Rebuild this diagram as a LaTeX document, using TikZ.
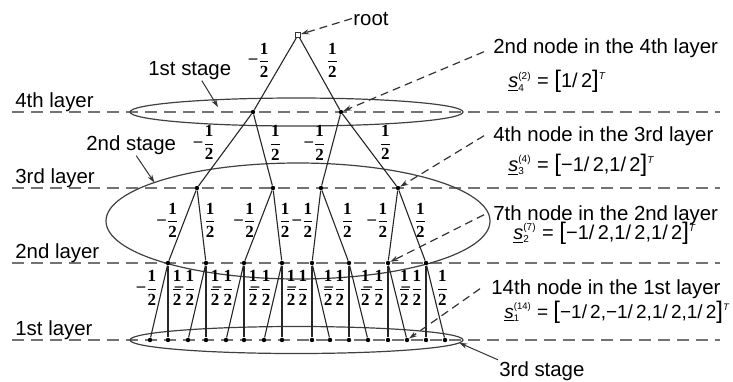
\documentclass[tikz,border=0pt]{standalone}
\usepackage{amsmath}
\usepackage{fontspec}
\setmainfont{Liberation Sans}
\newfontfamily\fracfont{Liberation Serif}
\usepackage{tikz}
\usetikzlibrary{shapes.geometric, positioning, arrows.meta}

% edge weights
\newcommand{\nhalf}{$\vcenter{\hbox{\fracfont\bfseries\textendash}}\dfrac{\text{\fracfont\bfseries 1}}{\text{\fracfont\bfseries 2}}$}
\newcommand{\phalf}{$\dfrac{\text{\fracfont\bfseries 1}}{\text{\fracfont\bfseries 2}}$}
% node vector s_layer^(index)
\newcommand{\svec}[2]{\underline{\textit{s}}$^{\scriptscriptstyle\text{(#2)}}_{\scriptscriptstyle\text{#1}}$}
\newcommand{\lbr}{{\fontsize{12}{12}\selectfont[}}
\newcommand{\rbr}{{\fontsize{12}{12}\selectfont]}$^{\scriptscriptstyle\textit{T}}$}
\newcommand{\hv}{1/\,2}
\newcommand{\mhv}{\char"2212 1/\,2}

\begin{document}
\begin{tikzpicture}[
        x=0.5pt, y=-0.5pt,
        txt/.style={font=\fontsize{10.2}{12}\selectfont, inner sep=0.5pt},
        eq/.style={font=\fontsize{10}{12}\selectfont, inner sep=0.5pt},
        lab/.style={font=\fontsize{8.5}{9}\selectfont, inner sep=0pt},
        dot/.style={circle, fill=black, inner sep=0pt, minimum size=2.2pt},
        rootpt/.style={rectangle, draw=black!80, fill=white, line width=0.4pt,
            inner sep=0pt, minimum size=2.6pt},
        edge/.style={draw=black!85, line width=0.55pt},
        layerline/.style={draw=black!55, line width=0.9pt, dash pattern=on 6pt off 3.5pt},
        stage/.style={draw=black!75, line width=0.6pt, ellipse, inner sep=0pt, outer sep=0pt},
        pointer/.style={draw=black!80, line width=0.6pt, dash pattern=on 4pt off 2.5pt,
            -{Stealth[length=4pt, width=2.6pt]}},
        arr/.style={draw=black!80, line width=0.5pt, -{Stealth[length=4pt, width=2.6pt]}}
    ]
    \useasboundingbox (0,0) rectangle (733,381);

    % ==========================================
    % LAYERS
    % ==========================================
    \foreach \y/\n in {112/4, 188/3, 263/2, 340/1} {
        \coordinate (w\n) at (12,\y);
        \coordinate (e\n) at (720,\y);
        \draw[layerline] (w\n) -- (e\n);
    }
    \node[txt, anchor=base west] (lab4) at (14,107) {4th layer};
    \node[txt, anchor=base west] (lab3) at (14,183) {3rd layer};
    \node[txt, anchor=base west] (lab2) at (14,258) {2nd layer};
    \node[txt, anchor=base west] (lab1) at (14,335) {1st layer};

    % ==========================================
    % STAGES
    % ==========================================
    \node[stage, minimum width=166.5pt, minimum height=14pt] (st1) at (296.5,112) {};
    \node[stage, minimum width=192pt, minimum height=58pt] (st2) at (298,221) {};
    \node[stage, minimum width=166.5pt, minimum height=13.5pt] (st3) at (296.5,340) {};

    \node[txt, anchor=base west] (s1) at (147,75) {1st stage};
    \node[txt, anchor=base west] (s2) at (85,150) {2nd stage};
    \node[txt, anchor=base west] (s3) at (498,376) {3rd stage};
    \coordinate (s1tip) at (218,107);
    \draw[arr] ([xshift=6pt]s1.south) -- (s1tip);
    \draw[arr] ([xshift=2.5pt]s2.south) -- (st2.165);
    \draw[arr] (s3.north west) -- (st3.-1);

    % ==========================================
    % TREE NODES
    % ==========================================
    \node[rootpt] (r) at (298,35) {};
    \foreach \x [count=\i] in {253,341}
        \node[dot] (a\i) at (\x,112) {};
    \foreach \x [count=\i] in {197,273,321,398}
        \node[dot] (b\i) at (\x,188) {};
    \foreach \x [count=\i] in {168,206,244,282,312,349,388,426}
        \node[dot] (c\i) at (\x,263) {};
    \foreach \x [count=\i] in {150,168,188,206,226,244,264,282,312,330,349,368,388,407,426,445}
        \node[dot] (d\i) at (\x,340) {};

    % root -> 4th layer
    \draw[edge] (r) -- node[lab, pos=.31, left=6pt] {\nhalf} (a1);
    \draw[edge] (r) -- node[lab, pos=.31, right=6.5pt] {\phalf} (a2);

    % 4th layer -> 3rd layer
    \draw[edge] (a1) -- node[lab, pos=.4, left=7pt] {\nhalf} (b1);
    \draw[edge] (a1) -- node[lab, pos=.4, right=3.5pt] {\phalf} (b2);
    \draw[edge] (a2) -- node[lab, pos=.4, left=3pt] {\nhalf} (b3);
    \draw[edge] (a2) -- node[lab, pos=.4, right=7pt] {\phalf} (b4);

    % 3rd layer -> 2nd layer
    \draw[edge] (b1) -- node[lab, pos=.43, left=2.3pt] {\nhalf} (c1);
    \draw[edge] (b1) -- node[lab, pos=.43, right=1pt] {\phalf} (c2);
    \draw[edge] (b2) -- node[lab, pos=.43, left=1.8pt] {\nhalf} (c3);
    \draw[edge] (b2) -- node[lab, pos=.43, right=.5pt] {\phalf} (c4);
    \draw[edge] (b3) -- node[lab, pos=.43, left=1pt] {\nhalf} (c5);
    \draw[edge] (b3) -- node[lab, pos=.43, right=3.5pt] {\phalf} (c6);
    \draw[edge] (b4) -- node[lab, pos=.43, left=1.8pt] {\nhalf} (c7);
    \draw[edge] (b4) -- node[lab, pos=.43, right=1.5pt] {\phalf} (c8);

    % 2nd layer -> 1st layer
    \foreach \i/\gl/\gr in {1/1.5/1, 2/1.5/1, 3/1.5/1, 4/1.5/1,
                           5/1/1.5, 6/1/1.5, 7/1/1.5, 8/1/1.5} {
        \pgfmathtruncatemacro\lc{2*\i-1}
        \pgfmathtruncatemacro\rc{2*\i}
        \draw[edge] (c\i) -- node[lab, pos=.31, left=\gl pt] {\nhalf} (d\lc);
        \draw[edge] (c\i) -- node[lab, pos=.31, right=\gr pt] {\phalf} (d\rc);
    }

    % ==========================================
    % ANNOTATIONS
    % ==========================================
    \node[txt, anchor=base west] (rootlab) at (352,25) {root};
    \draw[pointer] (rootlab.west) -- (r);

    \node[txt, anchor=base west] (t1) at (492,53) {2nd node in the 4th layer};
    \node[eq, anchor=base west] (f1) at (507,87) {\svec{4}{2} = \lbr\hv\rbr};
    \node[txt, anchor=base west] (t2) at (492,141) {4th node in the 3rd layer};
    \node[eq, anchor=base west] (f2) at (507,171) {\svec{3}{4} = \lbr\mhv,\hv\rbr};
    \node[txt, anchor=base west] (t3) at (492,220) {7th node in the 2nd layer};
    \node[eq, anchor=base west] (f3) at (512,239) {\svec{2}{7} = \lbr\mhv,\hv,\hv\rbr};
    \node[txt, anchor=base west] (t4) at (490,294) {14th node in the 1st layer};
    \node[eq, font=\fontsize{9.5}{12}\selectfont, anchor=base west] (f4) at (503,318)
        {\svec{1}{14} = \lbr\mhv,\mhv,\hv,\hv\rbr};

    \draw[pointer] ([xshift=-4pt, yshift=-2pt]t1.west) -- (a2);
    \draw[pointer] ([xshift=-4pt]t2.west) -- (b4);
    \draw[pointer] ([xshift=-4pt]t3.west) -- (c7);
    \draw[pointer] ([xshift=-5pt]t4.west) -- (d14);

\end{tikzpicture}
\end{document}
